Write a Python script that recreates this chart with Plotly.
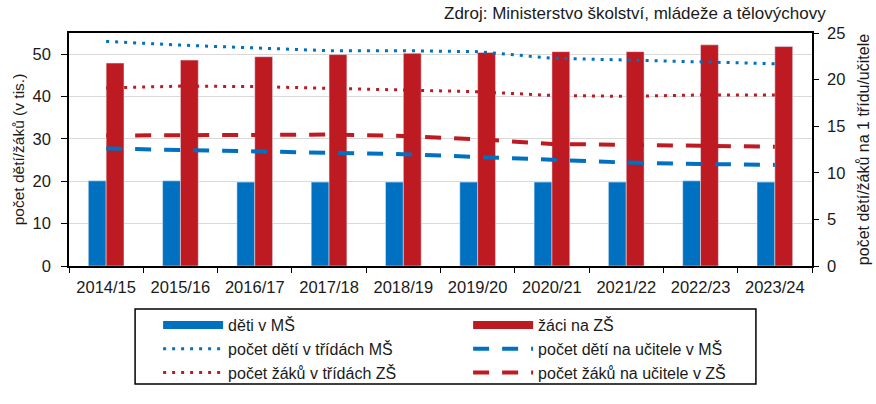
import plotly.graph_objects as go

years = ["2014/15", "2015/16", "2016/17", "2017/18", "2018/19",
         "2019/20", "2020/21", "2021/22", "2022/23", "2023/24"]

# left axis (v tis.)
deti_ms = [20.1, 20.1, 19.8, 19.8, 19.8, 19.8, 19.8, 19.8, 20.1, 19.8]
zaci_zs = [47.9, 48.6, 49.4, 49.9, 50.2, 50.4, 50.6, 50.6, 52.2, 51.8]

# right axis (na 1 třídu / učitele)
deti_tridy_ms = [24.1, 23.7, 23.4, 23.1, 23.1, 23.0, 22.3, 22.1, 21.9, 21.7]
deti_ucitel_ms = [12.6, 12.45, 12.3, 12.1, 12.0, 11.7, 11.4, 11.1, 10.95, 10.85]
zaci_tridy_zs = [19.1, 19.3, 19.25, 19.07, 18.9, 18.7, 18.3, 18.2, 18.35, 18.35]
zaci_ucitel_zs = [14.0, 14.06, 14.1, 14.1, 13.95, 13.6, 13.1, 13.0, 13.0, 12.8]

BLUE = "#0070C0"
RED = "#BE1A22"
FONT = "Liberation Sans, Arial, sans-serif"

fig = go.Figure()

# bars (legend drawn via dummy traces below)
fig.add_trace(go.Bar(x=years, y=deti_ms, name="děti v MŠ", marker_color=BLUE,
                     showlegend=False, offsetgroup="a"))
fig.add_trace(go.Bar(x=years, y=zaci_zs, name="žáci na ZŠ", marker_color=RED,
                     showlegend=False, offsetgroup="b"))

# legend entries for bars as wide rectangles
fig.add_trace(go.Scatter(x=[None], y=[None], mode="lines", name="děti v MŠ",
                         line=dict(color=BLUE, width=8)))
fig.add_trace(go.Scatter(x=[None], y=[None], mode="lines", name="žáci na ZŠ",
                         line=dict(color=RED, width=8)))

fig.add_trace(go.Scatter(x=years, y=deti_tridy_ms, yaxis="y2", mode="lines",
                         name="počet dětí v třídách MŠ",
                         line=dict(color=BLUE, width=3, dash="3px,6px")))
fig.add_trace(go.Scatter(x=years, y=deti_ucitel_ms, yaxis="y2", mode="lines",
                         name="počet dětí na učitele v MŠ",
                         line=dict(color=BLUE, width=4, dash="16px,13px")))
fig.add_trace(go.Scatter(x=years, y=zaci_tridy_zs, yaxis="y2", mode="lines",
                         name="počet žáků v třídách ZŠ",
                         line=dict(color=RED, width=3, dash="3px,6px")))
fig.add_trace(go.Scatter(x=years, y=zaci_ucitel_zs, yaxis="y2", mode="lines",
                         name="počet žáků na učitele v ZŠ",
                         line=dict(color=RED, width=4, dash="16px,13px")))

fig.update_layout(
    width=876, height=404,
    margin=dict(l=69, r=64, t=33, b=138),
    paper_bgcolor="white", plot_bgcolor="white",
    font=dict(family=FONT, size=16, color="#1a1a1a"),
    barmode="group", bargap=0.52, bargroupgap=0,
    xaxis=dict(type="category", showline=True, linecolor="black", linewidth=1.5,
               mirror=True, ticks="outside", tickson="boundaries", ticklen=5,
               tickcolor="black", showgrid=False, tickfont=dict(size=16.5),
               ticklabelstandoff=5, automargin=False),
    yaxis=dict(range=[0, 55], dtick=10, showline=True, linecolor="black",
               linewidth=1.5, ticks="outside", ticklen=6, tickcolor="black",
               gridcolor="#D9D9D9", gridwidth=1, zeroline=False,
               tickfont=dict(size=16.5), ticklabelstandoff=7, automargin=False,
               title=dict(text="počet dětí/žáků (v tis.)", standoff=4,
                          font=dict(size=15.5))),
    yaxis2=dict(range=[0, 25], dtick=5, overlaying="y", side="right",
                showline=True, linecolor="black", linewidth=1.5,
                ticks="outside", ticklen=5, tickcolor="black",
                showgrid=False, zeroline=False, tickfont=dict(size=16.5),
                ticklabelstandoff=5, automargin=False,
                title=dict(text="počet dětí/žáků na 1 třídu/učitele", standoff=13,
                           font=dict(size=16))),
    legend=dict(orientation="h", x=(158 - 69) / 742, xanchor="left", xref="paper",
                y=-(308 - 266) / 233, yanchor="top", entrywidth=235,
                font=dict(size=16), tracegroupgap=0,
                itemwidth=60, bgcolor="rgba(0,0,0,0)"),
    annotations=[dict(text="Zdroj: Ministerstvo školství, mládeže a tělovýchovy",
                      xref="paper", yref="paper", x=(827 - 69) / 742,
                      y=(266 - 14) / 233, xanchor="right", yanchor="middle",
                      showarrow=False, font=dict(size=17))],
    shapes=[dict(type="rect", xref="paper", yref="paper",
                 x0=(135 - 69) / 742, x1=(755 - 69) / 742,
                 y0=-(384 - 266) / 233, y1=-(309 - 266) / 233,
                 line=dict(color="black", width=1.5))],
)

# drop the default 8px page margin so the figure sits at the window origin
fig.write_html("out.html", config={"displayModeBar": False},
               post_script="document.body.style.margin='0';")
